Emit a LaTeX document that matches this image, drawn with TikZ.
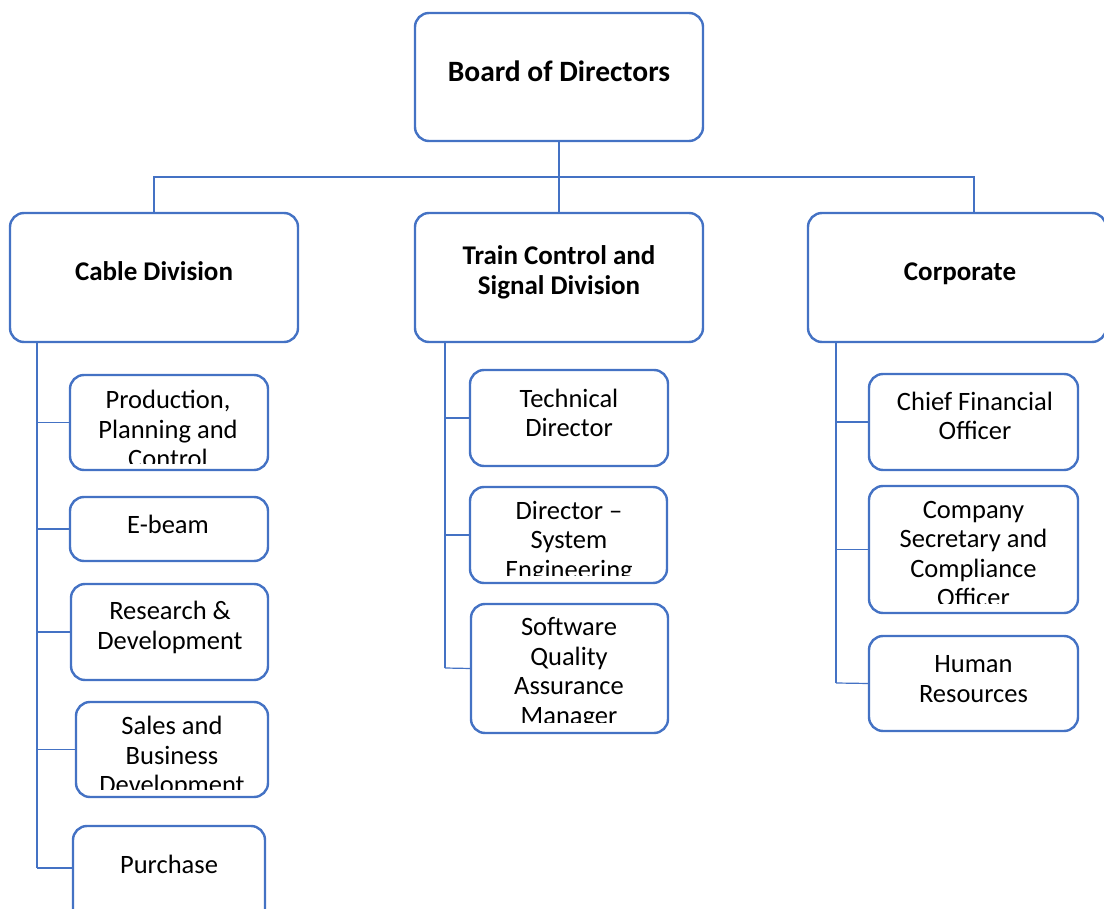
\documentclass[tikz,border=0pt]{standalone}
\usepackage{fontspec}
\setmainfont{Carlito}
\definecolor{accent}{RGB}{68,114,196}
\tikzset{
  orgbox/.style={draw=accent, line width=2.4pt, rounded corners=14pt, fill=white,
    inner sep=0pt, outer sep=0pt},
  link/.style={draw=accent, line width=1.2pt},
  headtxt/.style={align=center, inner sep=0pt, font=\fontsize{27}{30}\selectfont\bfseries},
  toptxt/.style={headtxt, font=\fontsize{29.5}{30}\selectfont\bfseries},
  bodytxt/.style={align=center, inner sep=0pt, font=\fontsize{26.5}{29.5}\selectfont},
}
\begin{document}
\begin{tikzpicture}[x=1pt,y=-1pt]
\useasboundingbox (0,0) rectangle (1104,909);
\clip (0,0) rectangle (1104,909);
% boxes
\node[orgbox, minimum width=288pt, minimum height=128pt] (board) at (559,77) {};
\node[orgbox, minimum width=288pt, minimum height=129pt] (cable) at (154,277.5) {};
\node[orgbox, minimum width=288pt, minimum height=129pt] (train) at (559,277.5) {};
\node[orgbox, minimum width=298pt, minimum height=129pt] (corp) at (957,277.5) {};
\coordinate (hub) at (559,177);
\coordinate (corpdrop) at (974,213);
% connectors
\draw[link] (board.south) -- (train.north);
\draw[link] (cable.north) |- (hub) -| (corpdrop);
\coordinate (cableline) at (37,868);
\coordinate (trainline) at (445,668);
\coordinate (corpline) at (836,683);
\draw[link] (cable.south -| cableline) -- (cableline);
\draw[link] (train.south -| trainline) -- (trainline);
\draw[link] (corp.south -| corpline) -- (corpline);
% cable children
\node[orgbox, minimum width=198pt, minimum height=95pt] (prod) at (169,422.5) {};
\node[orgbox, minimum width=198pt, minimum height=64pt] (ebeam) at (169,529) {};
\node[orgbox, minimum width=197pt, minimum height=96pt] (rnd) at (169.5,632) {};
\node[orgbox, minimum width=192pt, minimum height=95pt] (sales) at (172,749.5) {};
\node[orgbox, minimum width=192pt, minimum height=100pt] (purch) at (169,876) {};
\draw[link] (prod.west -| cableline) -- (prod.west);
\draw[link] (ebeam.west -| cableline) -- (ebeam.west);
\draw[link] (rnd.west -| cableline) -- (rnd.west);
\draw[link] (sales.west -| cableline) -- (sales.west);
\draw[link] (cableline) -- (cableline -| purch.west);
% train children
\node[orgbox, minimum width=198pt, minimum height=96pt] (tech) at (569,418) {};
\node[orgbox, minimum width=197pt, minimum height=96pt] (dse) at (568.5,535) {};
\node[orgbox, minimum width=197pt, minimum height=129pt] (sqa) at (569.5,668.5) {};
\draw[link] (tech.west -| trainline) -- (tech.west);
\draw[link] (dse.west -| trainline) -- (dse.west);
\draw[link] (trainline) -- (sqa.west);
% corporate children
\node[orgbox, minimum width=209pt, minimum height=96pt] (cfo) at (973.5,422) {};
\node[orgbox, minimum width=209pt, minimum height=127pt] (csec) at (973.5,549.5) {};
\node[orgbox, minimum width=209pt, minimum height=95pt] (hr) at (973.5,683.5) {};
\draw[link] (cfo.west -| corpline) -- (cfo.west);
\draw[link] (csec.west -| corpline) -- (csec.west);
\draw[link] (corpline) -- (hr.west);
% texts
\node[toptxt] (boardT) at (559,71) {Board of Directors};
\node[headtxt] (cableT) at (154,271) {Cable Division};
\node[headtxt] (trainT) at (559,272) {Train Control and\\Signal Division};
\node[headtxt] (corpT) at (960,274) {Corporate};
\begin{scope}
\clip (70,375) rectangle (268,463);
\node[bodytxt] (prodT) at (168,429) {Production,\\Planning and\\Control};
\end{scope}
\node[bodytxt] (ebeamT) at (168,524) {E-beam};
\node[bodytxt] (rndT) at (170,627.5) {Research \&\\Development};
\begin{scope}
\clip (76,702) rectangle (268,789);
\node[bodytxt] (salesT) at (172,757) {Sales and\\Business\\Development};
\end{scope}
\node[bodytxt] (purchT) at (169,864) {Purchase};
\node[bodytxt] (techT) at (569,413) {Technical\\Director};
\begin{scope}
\clip (470,487) rectangle (667,575);
\node[bodytxt] (dseT) at (569,542) {Director --\\System\\Engineering};
\end{scope}
\begin{scope}
\clip (471,604) rectangle (668,722);
\node[bodytxt] (sqaT) at (569,673) {Software\\Quality\\Assurance\\Manager};
\end{scope}
\node[bodytxt] (cfoT) at (975,416) {Chief Financial\\Officer};
\begin{scope}
\clip (869,486) rectangle (1078,603);
\node[bodytxt] (csecT) at (973.5,554) {Company\\Secretary and\\Compliance\\Officer};
\end{scope}
\node[bodytxt] (hrT) at (973.5,679) {Human\\Resources};
\end{tikzpicture}
\end{document}
